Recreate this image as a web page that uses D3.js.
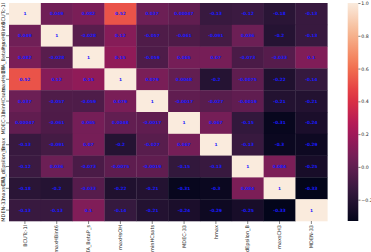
<!DOCTYPE html>
<html>
<head>
<meta charset="utf-8">
<script src="https://cdn.jsdelivr.net/npm/d3@7"></script>
<style>
body { margin: 0; background: white; }
text { font-family: "DejaVu Sans", sans-serif; }
</style>
</head>
<body>
<script>
const labels = ["BCUTc-1l", "maxHBint6", "ETA_BetaP_s", "maxHsOH", "minHCsats",
                "MDEC-33", "hmax", "ETA_dEpsilon_B", "maxsCH3", "MDEN-33"];
const corr = [
  [1, 0.049, 0.082, 0.52, 0.037, 0.00047, -0.13, -0.12, -0.18, -0.13],
  [0.049, 1, -0.028, 0.12, -0.057, -0.061, -0.091, 0.036, -0.2, -0.13],
  [0.082, -0.028, 1, 0.15, -0.059, 0.065, 0.07, -0.073, -0.033, 0.1],
  [0.52, 0.12, 0.15, 1, 0.079, 0.0048, -0.2, -0.0075, -0.22, -0.14],
  [0.037, -0.057, -0.059, 0.079, 1, -0.0017, -0.027, -0.0019, -0.21, -0.21],
  [0.00047, -0.061, 0.065, 0.0048, -0.0017, 1, 0.067, -0.15, -0.31, -0.24],
  [-0.13, -0.091, 0.07, -0.2, -0.027, 0.067, 1, -0.13, -0.3, -0.29],
  [-0.12, 0.036, -0.073, -0.0075, -0.0019, -0.15, -0.13, 1, 0.084, -0.25],
  [-0.18, -0.2, -0.033, -0.22, -0.21, -0.31, -0.3, 0.084, 1, -0.33],
  [-0.13, -0.13, 0.1, -0.14, -0.21, -0.24, -0.29, -0.25, -0.33, 1]
];
const cbTicks = [-0.2, 0, 0.2, 0.4, 0.6, 0.8, 1.0];

const W = 371, H = 252;
const svg = d3.select("body").append("svg").attr("width", W).attr("height", H);

const mLeft = 9, mRight = 327.3, mTop = 3, mBottom = 221;
const x = d3.scaleBand().domain(labels).range([mLeft, mRight]);
const y = d3.scaleBand().domain(labels).range([mTop, mBottom]);

const vmin = d3.min(corr.flat()), vmax = 1;
// rocket colormap approximation
const rocket = ["#03051a", "#35193e", "#701f57", "#ad1759", "#e13342", "#f37651", "#f6b48f", "#faebdd"];
const stops = [0, 1/7, 2/7, 3/7, 4/7, 5/7, 6/7, 1];
const rk = d3.scaleLinear().domain(stops).range(rocket).interpolate(d3.interpolateRgb);
const color = v => rk((v - vmin) / (vmax - vmin));

const cells = [];
corr.forEach((row, i) => row.forEach((v, j) => cells.push({r: labels[i], c: labels[j], v})));

svg.append("g").selectAll("rect").data(cells).enter().append("rect")
  .attr("x", d => x(d.c)).attr("y", d => y(d.r))
  .attr("width", x.bandwidth() + 0.3).attr("height", y.bandwidth() + 0.3)
  .attr("fill", d => color(d.v));

svg.append("g").selectAll("text").data(cells).enter().append("text")
  .attr("x", d => x(d.c) + x.bandwidth() / 2)
  .attr("y", d => y(d.r) + y.bandwidth() / 2)
  .attr("text-anchor", "middle").attr("dominant-baseline", "central")
  .attr("font-size", 4.3).attr("font-weight", "bold").attr("fill", "#1a1aff")
  .text(d => String(d.v));

// x axis
const xa = svg.append("g").attr("transform", `translate(0,${mBottom})`)
  .call(d3.axisBottom(x).tickSize(3).tickPadding(1));
xa.select(".domain").remove();
xa.selectAll("line").attr("stroke", "#333").attr("stroke-width", 0.6);
xa.selectAll("text").attr("font-size", 5).attr("fill", "#262626")
  .attr("transform", "rotate(-90)").attr("text-anchor", "end")
  .attr("x", -4).attr("y", 0).attr("dy", "0.35em");

// y axis
const ya = svg.append("g").attr("transform", `translate(${mLeft},0)`)
  .call(d3.axisLeft(y).tickSize(3).tickPadding(1));
ya.select(".domain").remove();
ya.selectAll("line").attr("stroke", "#333").attr("stroke-width", 0.6);
ya.selectAll("text").attr("font-size", 5).attr("fill", "#262626")
  .attr("text-anchor", "middle")
  .attr("transform", "translate(-4,0) rotate(-90)")
  .attr("x", 0).attr("y", 0).attr("dy", "0");

// colorbar
const cbX = 347.7, cbW = 10.6;
const cy = d3.scaleLinear().domain([vmin, vmax]).range([mBottom, mTop]);
const defs = svg.append("defs");
const grad = defs.append("linearGradient").attr("id", "cb")
  .attr("x1", 0).attr("y1", 1).attr("x2", 0).attr("y2", 0);
d3.range(0, 1.0001, 0.05).forEach(t => grad.append("stop")
  .attr("offset", t).attr("stop-color", rk(t)));
svg.append("rect").attr("x", cbX).attr("y", mTop).attr("width", cbW)
  .attr("height", mBottom - mTop).attr("fill", "url(#cb)");
const ca = svg.append("g").attr("transform", `translate(${cbX + cbW},0)`)
  .call(d3.axisRight(cy).tickValues(cbTicks).tickFormat(d3.format(".1f")).tickSize(2.2).tickPadding(0.8));
ca.select(".domain").remove();
ca.selectAll("line").attr("stroke", "#333").attr("stroke-width", 0.6);
ca.selectAll("text").attr("font-size", 4.7).attr("fill", "#262626");
</script>
</body>
</html>
